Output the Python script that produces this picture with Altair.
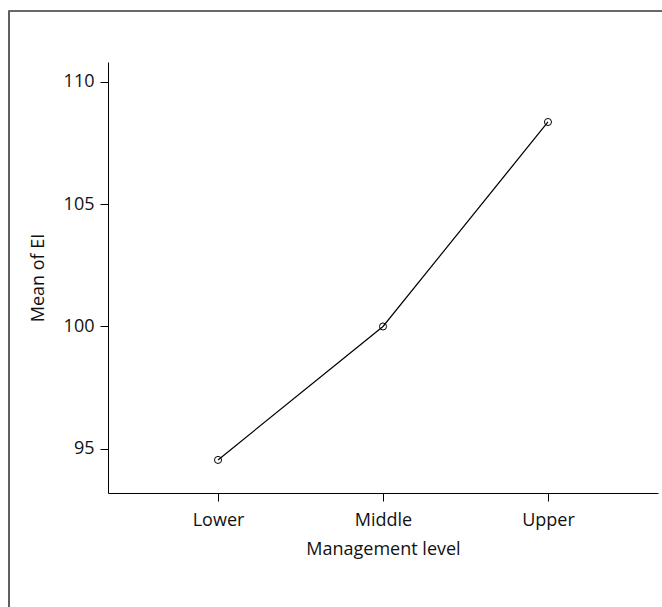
import altair as alt
import pandas as pd

levels = ["Lower", "Middle", "Upper"]
means = [94.55, 100.0, 108.35]

df = pd.DataFrame({"level": levels, "mean": means})

FONT = "Open Sans"
FS = 18

x = alt.X("level:N", sort=levels, title="Management level",
          scale=alt.Scale(type="point", padding=0.667),
          axis=alt.Axis(labelAngle=0, domainColor="black", tickColor="black",
                        tickSize=8, labelPadding=10, titlePadding=11,
                        labelFontSize=FS, titleFontSize=FS, labelColor="#111",
                        titleColor="#111", labelFont=FONT, titleFont=FONT,
                        titleFontWeight="normal", grid=False))
y = alt.Y("mean:Q", title="Mean of EI",
          scale=alt.Scale(domain=[93.2, 110.8], nice=False, zero=False),
          axis=alt.Axis(values=[95, 100, 105, 110], domainColor="black",
                        tickColor="black", tickSize=8, labelPadding=6,
                        titlePadding=16, labelFontSize=FS, titleFontSize=FS,
                        labelColor="#111", titleColor="#111", labelFont=FONT,
                        titleFont=FONT, titleFontWeight="normal", grid=False))

line = alt.Chart(df).mark_line(color="black", strokeWidth=1.2).encode(x=x, y=y)
pts = alt.Chart(df).mark_point(shape="circle", filled=False, color="black",
                               size=50, strokeWidth=1, opacity=1).encode(x=x, y=y)

frame = alt.Chart(df).mark_rect(fill=None, stroke="#555", strokeWidth=1.2).encode(
    x=alt.value(-99), x2=alt.value(700), y=alt.value(-51), y2=alt.value(700))

chart = alt.layer(frame, line, pts).properties(
    width=550, height=431,
    autosize=alt.AutoSizeParams(type="none"),
    padding={"left": 108, "top": 62, "right": 4, "bottom": 114},
    background="white",
).configure_view(stroke=None)

chart.save("out.html", embed_options={"renderer": "svg", "actions": False})
